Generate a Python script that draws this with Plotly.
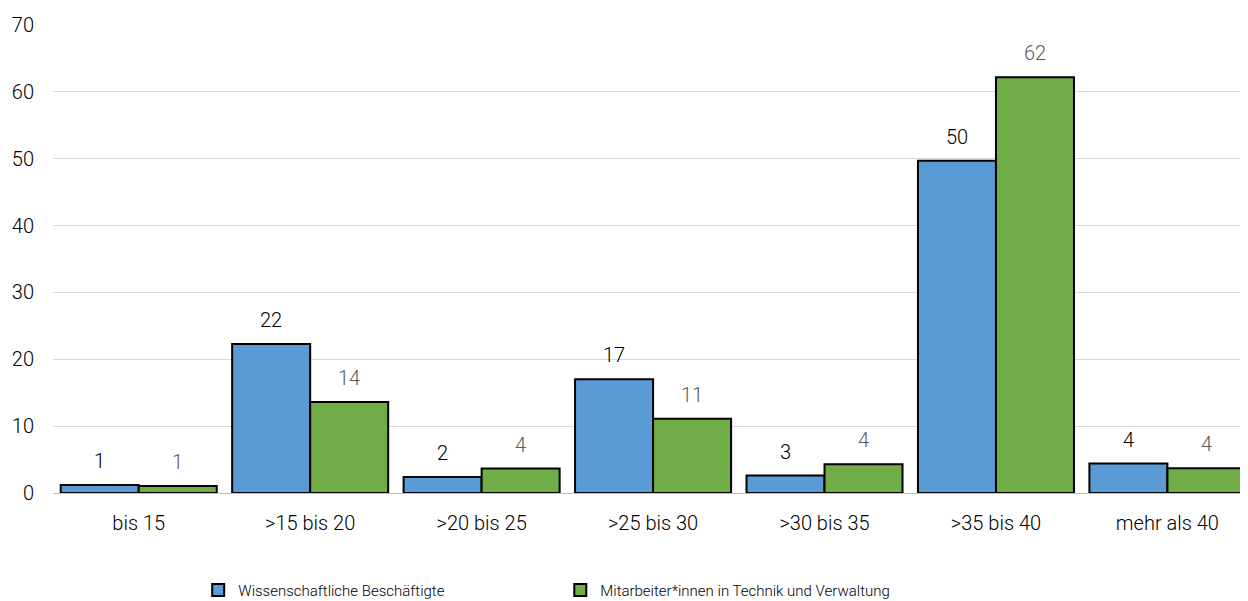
import plotly.graph_objects as go

categories = ["bis 15", ">15 bis 20", ">20 bis 25", ">25 bis 30", ">30 bis 35", ">35 bis 40", "mehr als 40"]
wiss = [1.2, 22.3, 2.4, 17.0, 2.6, 49.7, 4.4]
mtv = [1.05, 13.6, 3.65, 11.1, 4.3, 62.2, 3.7]
series_names = ["Wissenschaftliche Beschäftigte", "Mitarbeiter*innen in Technik und Verwaltung"]
y_ticks = [0, 10, 20, 30, 40, 50, 60, 70]

BLUE = "#5b9bd5"
GREEN = "#70ad47"
FONT = "Roboto"
W = 300

fig = go.Figure()
fig.add_trace(go.Bar(x=categories, y=wiss, name=series_names[0], legend="legend",
                     marker=dict(color=BLUE, line=dict(color="black", width=2))))
fig.add_trace(go.Bar(x=categories, y=mtv, name=series_names[1], legend="legend2",
                     marker=dict(color=GREEN, line=dict(color="black", width=2))))

for c, v in zip(categories, wiss):
    fig.add_annotation(x=c, y=v, text=f"{round(v)}", showarrow=False, yanchor="bottom",
                       xshift=-39, yshift=10,
                       font=dict(family=FONT, size=20, color="#000000", weight=W))
for c, v in zip(categories, mtv):
    fig.add_annotation(x=c, y=v, text=f"{round(v)}", showarrow=False, yanchor="bottom",
                       xshift=39, yshift=10,
                       font=dict(family=FONT, size=20, color="#595959", weight=W))

leg_common = dict(orientation="h", yanchor="middle", y=-0.208, xanchor="left",
                  font=dict(family=FONT, size=15, color="#000000", weight=W), itemwidth=30,
                  bgcolor="rgba(0,0,0,0)")

fig.update_layout(
    width=1240, height=593,
    margin=dict(l=45, r=0, t=17, b=108, autoexpand=False),
    plot_bgcolor="white", paper_bgcolor="white",
    barmode="group", bargap=0.09, bargroupgap=0,
    font=dict(family=FONT, size=20, color="#000000", weight=W),
    showlegend=True,
    legend=dict(x=0.1215, **leg_common),
    legend2=dict(x=0.4245, **leg_common),
    yaxis=dict(range=[0, 70], tickvals=y_ticks, showgrid=True, gridcolor="#d9d9d9", gridwidth=1,
               zeroline=False, showline=False, ticks="",
               tickfont=dict(size=20, weight=W),
               ticklabelstandoff=18, automargin=False),
    xaxis=dict(range=[-0.5, 6.47], showline=True, linecolor="#bfbfbf", linewidth=1, ticks="",
               tickfont=dict(size=20, weight=W),
               automargin=False, ticklabelstandoff=12),
)

fig.write_html("out.html")
